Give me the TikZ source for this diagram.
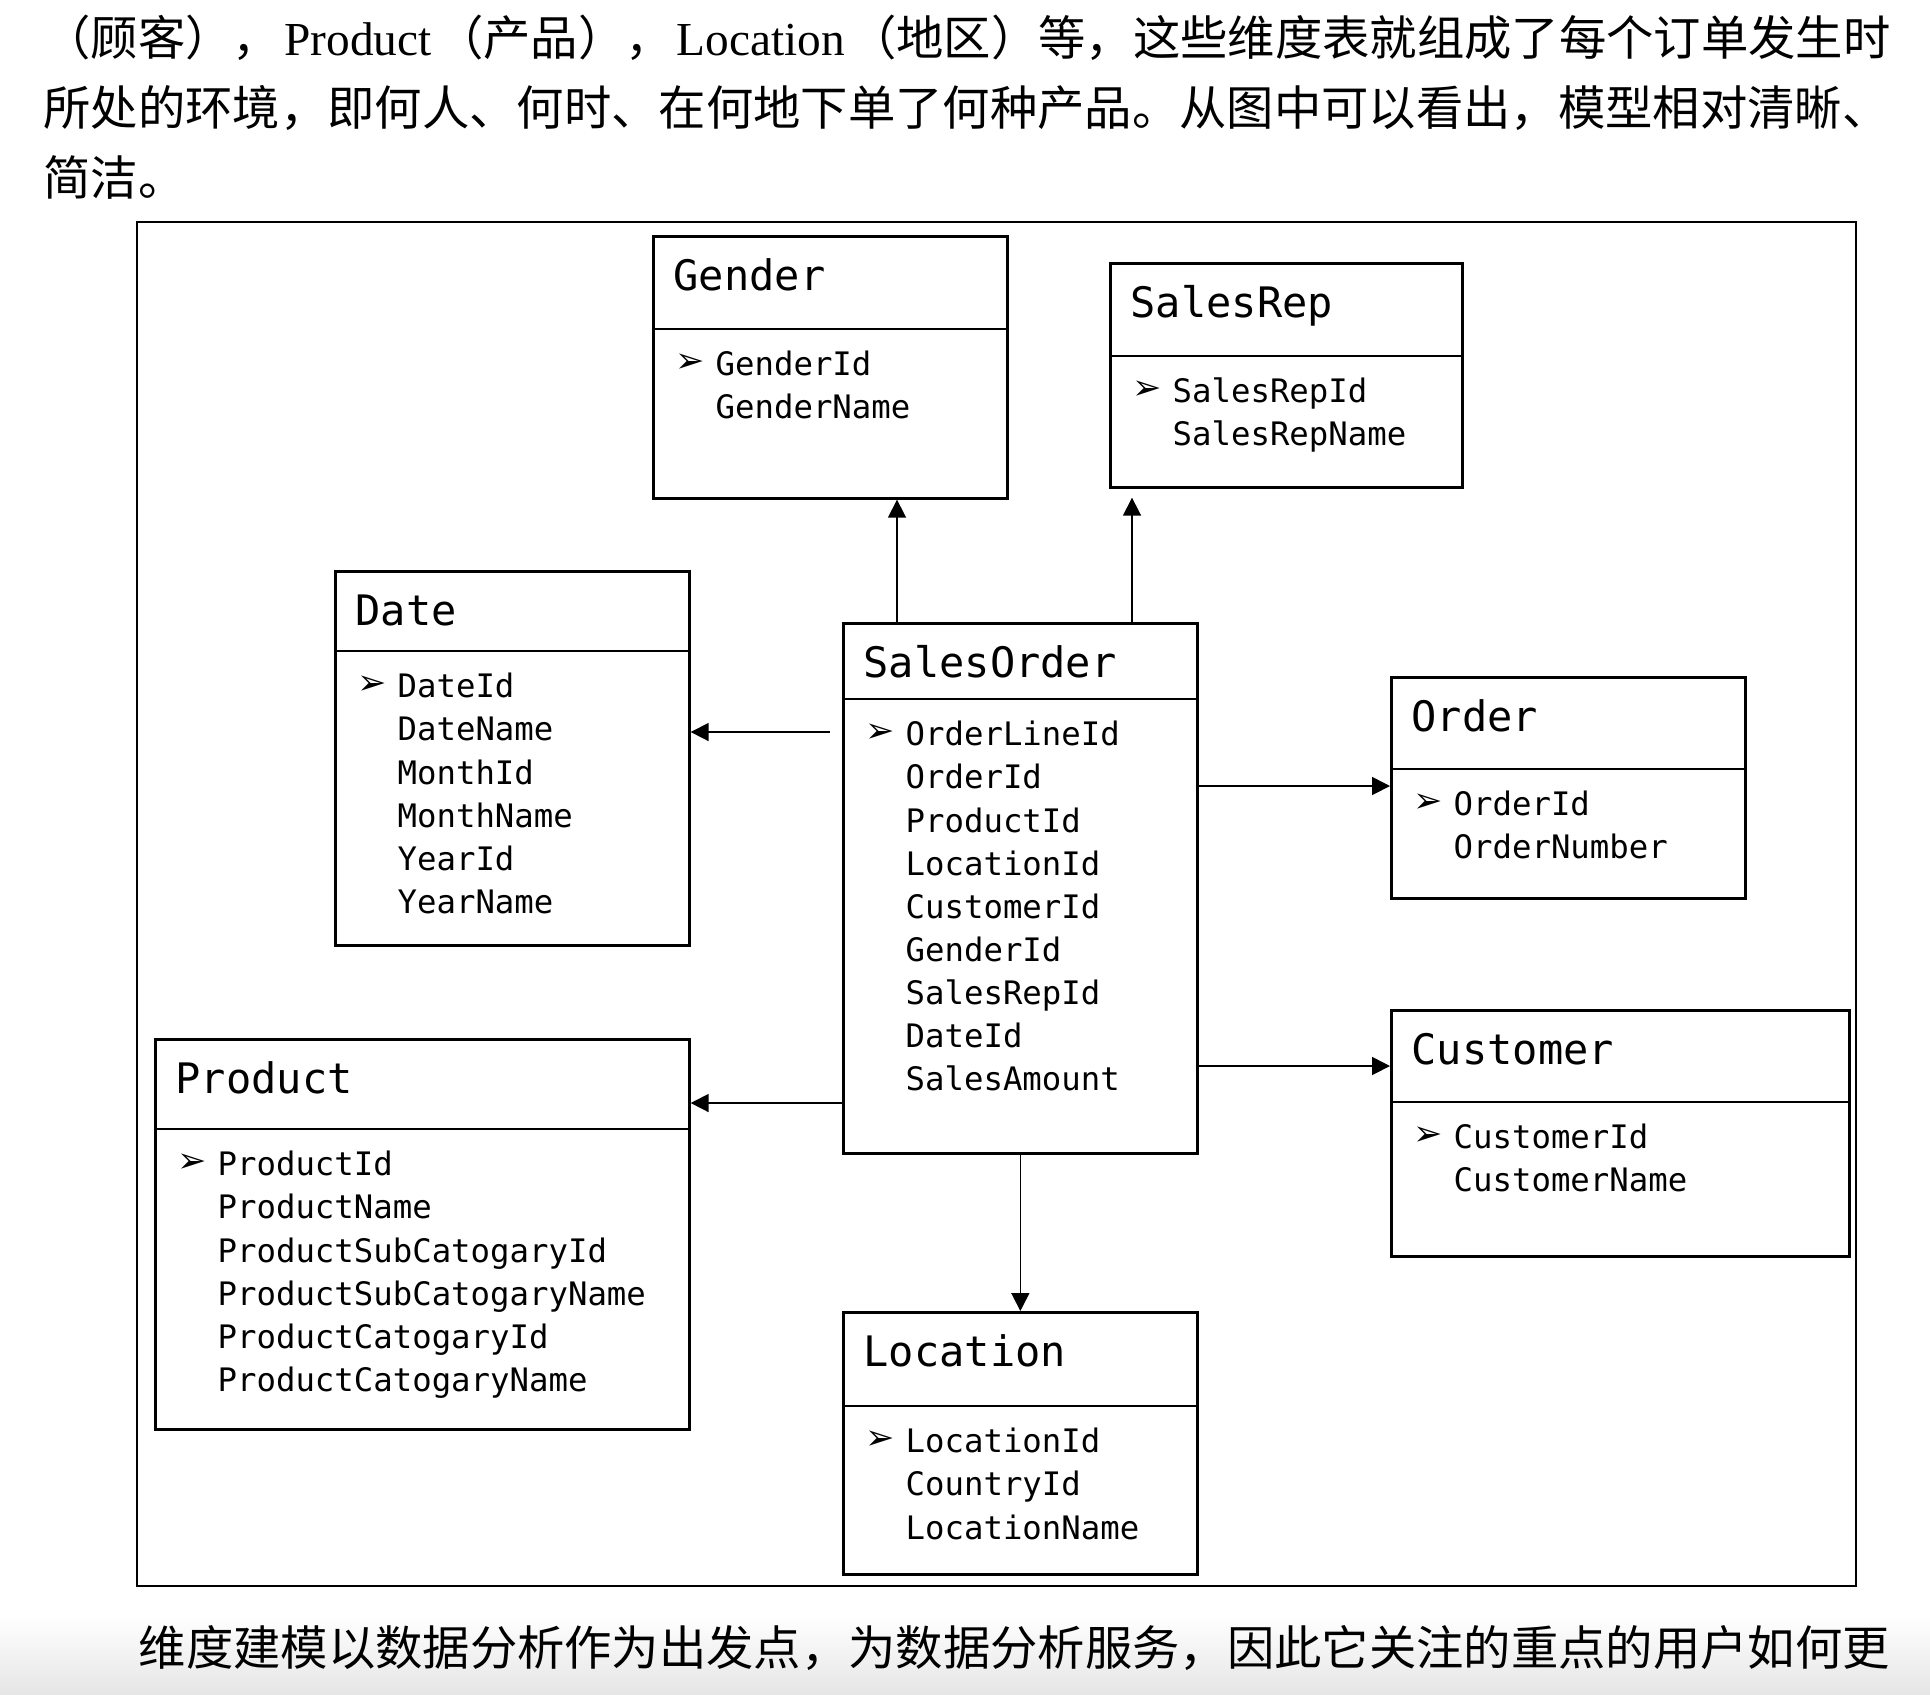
\documentclass[tikz,border=0pt]{standalone}
\usepackage{fontspec}
\setmainfont{Liberation Serif}
\newfontfamily\cnfont{Noto Sans CJK SC}
\newfontfamily\codefont{DejaVu Sans Mono}
\newfontfamily\dingfont{DejaVu Sans}
\usetikzlibrary{arrows.meta, positioning}
\XeTeXlinebreaklocale "zh"
\XeTeXlinebreakskip=0pt plus 4pt

\tikzset{
  tablebox/.style={draw, line width=0.8pt, inner sep=0pt, anchor=north west},
  sepline/.style={line width=0.8pt},
  tbltitle/.style={anchor=west, inner sep=0pt, text height=9.2pt, text depth=0pt,
    font=\fontsize{12.6}{15}\selectfont\codefont},
  tblfields/.style={anchor=north west, inner sep=0pt, align=left,
    font=\fontsize{9.7}{12.93}\selectfont\codefont},
  keymark/.style={inner sep=0pt, font=\fontsize{10.5}{12}\selectfont\dingfont},
  link/.style={line width=0.5pt, -{Triangle[length=5.4pt,width=5.4pt]}},
  para/.style={anchor=west, inner sep=0pt, text height=12.5pt, text depth=1.7pt,
    font=\fontsize{14.2}{17}\selectfont},
}

\begin{document}
\begin{tikzpicture}[x=0.3pt, y=-0.3pt]
\useasboundingbox (0,0) rectangle (1930,1694);
\shade[top color=white, bottom color=black!10] (0,1615) rectangle (1930,1694);

% text around the figure
\node[para] (l1) at (43,37) {\makebox[554.1pt][s]{{\cnfont （顾客），}\hspace{0pt plus 6pt}Product\hspace{0pt plus 6pt}{\cnfont （产品），}\hspace{0pt plus 6pt}Location\hspace{0pt plus 6pt}{\cnfont （地区）等，这些维度表就组成了每个订单发生时}}};
\node[para] (l2) at (43,107) {\cnfont\makebox[554.1pt][s]{所处的环境，即何人、何时、在何地下单了何种产品。从图中可以看出，模型相对清晰、}};
\node[para] (l3) at (43,177) {\cnfont 简洁。};
\node[para] (l4) at (138,1647) {\cnfont\makebox[525.6pt][s]{维度建模以数据分析作为出发点，为数据分析服务，因此它关注的重点的用户如何更}};

% frame
\draw[line width=0.75pt] (137,222) rectangle (1856,1586);

% Gender
\node[tablebox, minimum width=106.2pt, minimum height=78.6pt] (gender) at (652,235) {};
\draw[sepline] ([yshift=-28.2pt]gender.north west) -- ([yshift=-28.2pt]gender.north east);
\node[tbltitle] (gendertitle) at (673,275) {Gender};
\node[keymark] (genderkey) at (690,363) {➢};
\node[tblfields] (genderfields) at (715,345) {\strut GenderId\\GenderName};

% SalesRep
\node[tablebox, minimum width=105.6pt, minimum height=67.2pt] (rep) at (1109,262) {};
\draw[sepline] ([yshift=-28.2pt]rep.north west) -- ([yshift=-28.2pt]rep.north east);
\node[tbltitle] (reptitle) at (1130,302) {SalesRep};
\node[keymark] (repkey) at (1147,390) {➢};
\node[tblfields] (repfields) at (1172,372) {\strut SalesRepId\\SalesRepName};

% Date
\node[tablebox, minimum width=106.2pt, minimum height=112.2pt] (date) at (334,570) {};
\draw[sepline] ([yshift=-24.3pt]date.north west) -- ([yshift=-24.3pt]date.north east);
\node[tbltitle] (datetitle) at (355,610) {Date};
\node[keymark] (datekey) at (372,685) {➢};
\node[tblfields] (datefields) at (397,667) {\strut DateId\\DateName\\MonthId\\MonthName\\YearId\\YearName};

% SalesOrder
\node[tablebox, minimum width=106.2pt, minimum height=159pt] (so) at (842,622) {};
\draw[sepline] ([yshift=-23.1pt]so.north west) -- ([yshift=-23.1pt]so.north east);
\node[tbltitle] (sotitle) at (863,662) {SalesOrder};
\node[keymark] (sokey) at (880,733) {➢};
\node[tblfields] (sofields) at (905,715) {\strut OrderLineId\\OrderId\\ProductId\\LocationId\\CustomerId\\GenderId\\SalesRepId\\DateId\\SalesAmount};

% Order
\node[tablebox, minimum width=106.2pt, minimum height=66.3pt] (order) at (1390,676) {};
\draw[sepline] ([yshift=-27.9pt]order.north west) -- ([yshift=-27.9pt]order.north east);
\node[tbltitle] (ordertitle) at (1411,716) {Order};
\node[keymark] (orderkey) at (1428,803) {➢};
\node[tblfields] (orderfields) at (1453,785) {\strut OrderId\\OrderNumber};

% Customer
\node[tablebox, minimum width=137.4pt, minimum height=73.8pt] (cust) at (1390,1009) {};
\draw[sepline] ([yshift=-27.9pt]cust.north west) -- ([yshift=-27.9pt]cust.north east);
\node[tbltitle] (custtitle) at (1411,1049) {Customer};
\node[keymark] (custkey) at (1428,1136) {➢};
\node[tblfields] (custfields) at (1453,1118) {\strut CustomerId\\CustomerName};

% Product
\node[tablebox, minimum width=160.2pt, minimum height=117pt] (prod) at (154,1038) {};
\draw[sepline] ([yshift=-27.3pt]prod.north west) -- ([yshift=-27.3pt]prod.north east);
\node[tbltitle] (prodtitle) at (175,1078) {Product};
\node[keymark] (prodkey) at (192,1163) {➢};
\node[tblfields] (prodfields) at (217,1145) {\strut ProductId\\ProductName\\ProductSubCatogaryId\\ProductSubCatogaryName\\ProductCatogaryId\\ProductCatogaryName};

% Location
\node[tablebox, minimum width=106.2pt, minimum height=78.6pt] (loc) at (842,1311) {};
\draw[sepline] ([yshift=-28.5pt]loc.north west) -- ([yshift=-28.5pt]loc.north east);
\node[tbltitle] (loctitle) at (863,1351) {Location};
\node[keymark] (lockey) at (880,1440) {➢};
\node[tblfields] (locfields) at (905,1422) {\strut LocationId\\CountryId\\LocationName};

% links from the fact table
\coordinate (gx) at (897,0);
\coordinate (rx) at (1132,0);
\coordinate (dy) at (0,732);
\coordinate (py) at (0,1103);
\coordinate (oy) at (0,786);
\coordinate (cy) at (0,1066);
\draw[link] (gx |- so.north) -- (gx |- gender.south);
\draw[link, shorten >=2.7pt] (rx |- so.north) -- (rx |- rep.south);
\draw[link, shorten <=3.6pt] (so.west |- dy) -- (date.east |- dy);
\draw[link] (so.west |- py) -- (prod.east |- py);
\draw[link] (so.east |- oy) -- (order.west |- oy);
\draw[link] (so.east |- cy) -- (cust.west |- cy);
\draw[link] (so.south) -- (loc.north);
\end{tikzpicture}
\end{document}
